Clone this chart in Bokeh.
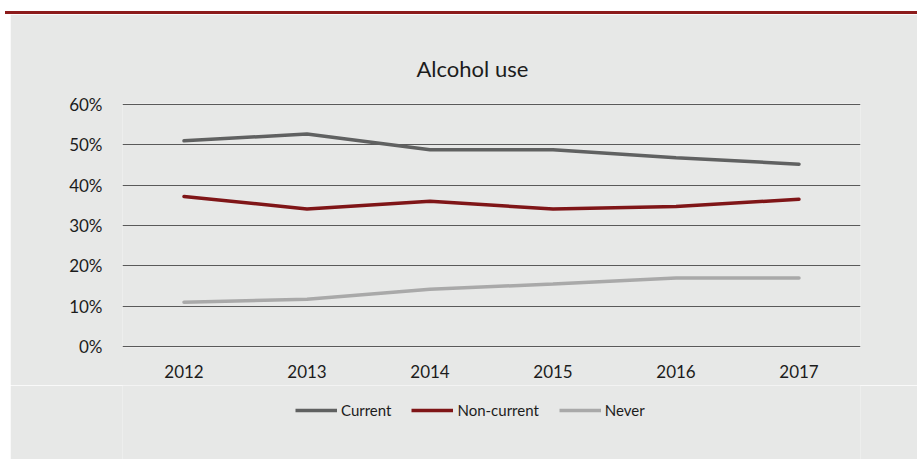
from bokeh.plotting import figure
from bokeh.models import (FactorRange, Range1d, FixedTicker, PrintfTickFormatter,
                          Legend, LegendItem, Div, Spacer)
from bokeh.layouts import column, row
from bokeh.embed import file_html
from bokeh.resources import INLINE

years = ["2012", "2013", "2014", "2015", "2016", "2017"]
current = [51.0, 52.7, 48.8, 48.8, 46.8, 45.2]
non_current = [37.2, 34.1, 36.0, 34.1, 34.7, 36.5]
never = [11.0, 11.7, 14.2, 15.5, 17.0, 17.0]
series_names = ["Current", "Non-current", "Never"]
y_ticks = [0, 10, 20, 30, 40, 50, 60]

PANEL = "#e7e8e7"
TEXT = "#1c1c1c"
FONT = "Lato"
colors = ["#606161", "#7f1517", "#a9a9a9"]
series = [current, non_current, never]

p = figure(x_range=FactorRange(*years, range_padding=0), y_range=Range1d(-0.25, 60.25),
           width=907, height=371, output_backend="svg", toolbar_location=None,
           min_border_left=112, min_border_right=57, min_border_top=89,
           min_border_bottom=38, title="Alcohol use", margin=0)
p.background_fill_color = PANEL
p.border_fill_color = PANEL
p.outline_line_color = None

p.title.align = "left"
p.title.offset = 294
p.title.standoff = 43
p.title.text_font = FONT
p.title.text_font_size = "22px"
p.title.text_font_style = "normal"
p.title.text_color = TEXT

p.xgrid.grid_line_color = None
p.ygrid.grid_line_color = "#5a5a5a"
p.ygrid.grid_line_width = 1
p.yaxis.ticker = FixedTicker(ticks=y_ticks)
p.yaxis.formatter = PrintfTickFormatter(format="%d%%")
for ax in (p.xaxis[0], p.yaxis[0]):
    ax.axis_line_color = None
    ax.major_tick_line_color = None
    ax.minor_tick_line_color = None
    ax.major_label_text_font = FONT
    ax.major_label_text_font_size = "17px"
    ax.major_label_text_color = TEXT
p.yaxis.major_label_standoff = 14
p.xaxis.major_label_standoff = 11

for vals, c in zip(series, colors):
    p.line(years, vals, line_color=c, line_width=3.5, line_cap="round")

# legend strip (series drawn off-range so only the legend shows)
lg = figure(width=907, height=74, x_range=FactorRange(*years, range_padding=0),
            y_range=Range1d(1000, 1001), output_backend="svg", toolbar_location=None,
            min_border_left=112, min_border_right=57,
            min_border_top=0, min_border_bottom=0, margin=0)
lg.axis.visible = False
lg.grid.visible = False
lg.background_fill_color = PANEL
lg.border_fill_color = PANEL
lg.outline_line_color = None
items = []
for name, vals, c in zip(series_names, series, colors):
    r = lg.line(years, vals, line_color=c, line_width=3.5)
    items.append(LegendItem(label=name, renderers=[r]))
legend = Legend(items=items, orientation="horizontal", location=(173, 40),
                background_fill_alpha=0, border_line_color=None,
                label_text_font=FONT, label_text_font_size="15px",
                label_text_color=TEXT, glyph_width=42, glyph_height=14,
                label_standoff=4, spacing=20, margin=0, padding=0)
lg.add_layout(legend)

top = Div(text="", width=912, height=14, margin=(0, 0, 0, 5),
          styles={"border-bottom": "3px solid #8c1b1b", "box-sizing": "border-box",
                  "background-color": "white"})

layout = column(top,
                row(Spacer(width=10, height=445, margin=0),
                    column(p, lg, spacing=0, margin=0), spacing=0, margin=0),
                spacing=0, margin=0)
open("out.html", "w").write(file_html(layout, INLINE))
